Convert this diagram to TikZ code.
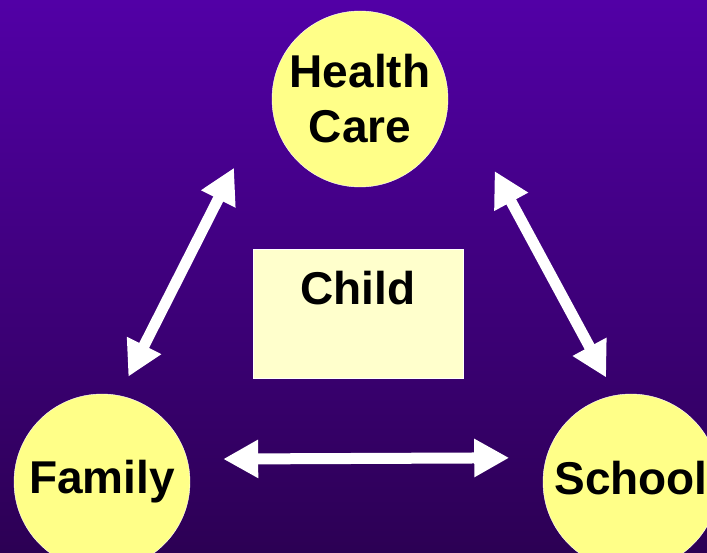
\documentclass[tikz,border=0pt]{standalone}
\usepackage{fontspec}
\setmainfont{Liberation Sans}
\usetikzlibrary{arrows.meta}
\definecolor{bgtop}{RGB}{82,0,166}
\definecolor{bgbottom}{RGB}{44,0,84}
\definecolor{placefill}{RGB}{255,255,136}
\definecolor{childfill}{RGB}{255,255,204}
\tikzset{place/.style={ % Yellow circles round the child
circle, draw=white, thin, fill=placefill,
minimum size=176pt, inner sep=0pt, align=center,
font=\fontsize{46}{55}\selectfont\bfseries},
childbox/.style={ % The box in the middle
rectangle, draw=white, thin, fill=childfill,
minimum width=210pt, minimum height=129pt, inner sep=0pt,
text height=33pt, text depth=50pt, % Pushes the word to the top of the box
font=\fontsize{46}{55}\selectfont\bfseries},
link/.style={ % Fat white arrows with a head at each end
draw=white, line width=11pt,
{Triangle[length=35pt,width=36pt]}-{Triangle[length=35pt,width=36pt]}}}

\begin{document}
\begin{tikzpicture}[x=1pt, y=1pt]
    
    \clip (0,0) rectangle (707,552);
    \shade[top color=bgtop, bottom color=bgbottom] (0,0) rectangle (707,552);
    
    \node[place] (care) at (360,453) {Health\\Care};
    \node[place] (family) at (102,70) {Family};
    \node[place, text depth=9pt] (school) at (631,70) {School};
    \node[childbox] (child) at (358,238.5) {Child};
    
    
    \draw[link, shorten <=84pt, shorten >=21pt] (care.176.4) -- (family.79.8);
    \draw[link, shorten <=101pt, shorten >=20pt] (care.11.6) -- (school.100.2);
    \draw[link, shorten <=36pt, shorten >=37pt] (family.15.8) -- (school.164.2);
    
    
\end{tikzpicture}
\end{document}
